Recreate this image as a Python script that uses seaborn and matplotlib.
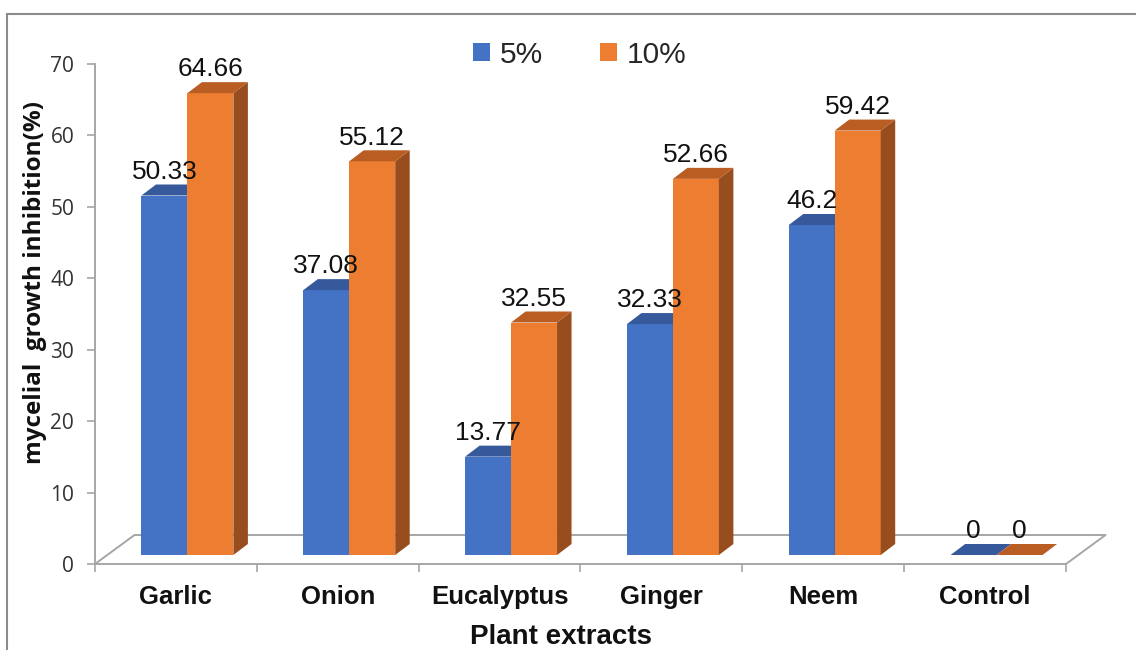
import matplotlib
matplotlib.use("Agg")
import matplotlib.pyplot as plt
import matplotlib.transforms as mtransforms
from matplotlib.patches import Polygon, Patch
from matplotlib.lines import Line2D
import numpy as np
import pandas as pd
import seaborn as sns

# ---- data -------------------------------------------------------------
extracts = ["Garlic", "Onion", "Eucalyptus", "Ginger", "Neem", "Control"]
doses = ["5%", "10%"]
inhibition_5 = [50.33, 37.08, 13.77, 32.33, 46.2, 0]
inhibition_10 = [64.66, 55.12, 32.55, 52.66, 59.42, 0]
y_ticks = [0, 10, 20, 30, 40, 50, 60, 70]

df = pd.DataFrame({
    "extract": extracts * 2,
    "dose": [doses[0]] * len(extracts) + [doses[1]] * len(extracts),
    "value": inhibition_5 + inhibition_10,
})

# ---- style ------------------------------------------------------------
sns.set_style("white")
plt.rcParams["font.family"] = ["Liberation Sans", "DejaVu Sans"]

FRONT = {"5%": "#4472C4", "10%": "#ED7D31"}
TOP = {"5%": "#35599A", "10%": "#B95D22"}
SIDE = {"5%": "#2B4A80", "10%": "#984D1E"}
GRID = "#A6A6A6"

W, H, DPI = 1136, 650, 100
fig = plt.figure(figsize=(W / DPI, H / DPI), dpi=DPI)
fig.patch.set_facecolor("white")

# axes box: floor front edge 95..1066 px, y range 0..70 over 564..64 px
ax = fig.add_axes([95 / W, (H - 564) / H, (1066 - 95) / W, 500 / H])

sns.barplot(data=df, x="extract", y="value", hue="dose", order=extracts,
            hue_order=doses, palette=[FRONT[d] for d in doses],
            saturation=1, width=0.568, gap=0, linewidth=0, legend=False,
            ax=ax, zorder=2)

ax.set_xlim(-0.5, len(extracts) - 0.5)
ax.set_ylim(0, 70)

ppx = ax.bbox.width / len(extracts)   # pixels per category unit
ppy = ax.bbox.height / 70.0           # pixels per value unit

# bars sit slightly back on the 3-D floor
shift = mtransforms.ScaledTranslation(11.5 / DPI, 9 / DPI, fig.dpi_scale_trans)
bar_tr = ax.transData + shift

depth_x = 14.5 / ppx
depth_y = 11 / ppy

n = len(extracts)
for i, p in enumerate(ax.patches[:2 * n]):
    dose = doses[i // n]
    base_z = 2 if dose == "5%" else 3
    p.set_transform(bar_tr)
    p.set_zorder(base_z)
    x0 = p.get_x()
    x1 = x0 + p.get_width()
    h = p.get_height()
    top = Polygon([(x0, h), (x1, h), (x1 + depth_x, h + depth_y),
                   (x0 + depth_x, h + depth_y)], closed=True,
                  facecolor=TOP[dose], edgecolor="none", transform=bar_tr,
                  zorder=base_z + 0.1, clip_on=False)
    side = Polygon([(x1, 0), (x1, h), (x1 + depth_x, h + depth_y),
                    (x1 + depth_x, depth_y)], closed=True,
                   facecolor=SIDE[dose], edgecolor="none", transform=bar_tr,
                   zorder=base_z + 0.1, clip_on=False)
    ax.add_patch(side)
    ax.add_patch(top)
    ax.annotate(f"{h:g}", xy=((x0 + x1) / 2, h), xycoords=bar_tr,
                xytext=(0, 12), textcoords="offset points",
                ha="center", va="baseline", fontsize=19, color="#111111",
                zorder=10, annotation_clip=False)

# ---- 3-D floor outline --------------------------------------------------
fx = 39.5 / ppx
fy = 29 / ppy
floor_kw = dict(color=GRID, lw=1.4, clip_on=False, zorder=1)
ax.plot([-0.5, -0.5 + fx], [0, fy], **floor_kw)
ax.plot([-0.5 + fx, n - 0.5 + fx], [fy, fy], **floor_kw)
ax.plot([n - 0.5, n - 0.5 + fx], [0, fy], **floor_kw)

# ---- axes -------------------------------------------------------------
for s in ["top", "right"]:
    ax.spines[s].set_visible(False)
for s in ["left", "bottom"]:
    ax.spines[s].set_color(GRID)
    ax.spines[s].set_linewidth(1.4)

ax.set_yticks(y_ticks)
ax.set_yticklabels([str(t) for t in y_ticks], fontfamily="Open Sans",
                   fontsize=15, color="#333333")
ax.tick_params(axis="y", which="major", direction="out", length=6,
               width=1.2, color=GRID, pad=9, left=True)

ax.set_xticks(range(n))
ax.set_xticklabels(extracts, fontweight="bold", fontsize=18.5,
                   color="#111111")
ax.set_xticks(np.arange(-0.5, n), minor=True)
ax.tick_params(axis="x", which="major", length=0, pad=15)
ax.tick_params(axis="x", which="minor", direction="out", length=6,
               width=1.2, color=GRID, bottom=True)

ax.set_xlabel("")
ax.set_ylabel("")
fig.text(35 / W, 1 - 283 / H, "mycelial  growth inhibition(%)",
         rotation=90, ha="center", va="center", fontfamily="Open Sans",
         fontweight="bold", fontsize=17.5, color="#111111")
fig.text(561 / W, 1 - 637 / H, "Plant extracts", ha="center",
         va="center", fontweight="bold", fontsize=20, color="#111111")

# ---- legend -----------------------------------------------------------
handles = [Patch(facecolor=FRONT[d], edgecolor="none", label=d) for d in doses]
fig.legend(handles=handles, loc="center", ncol=2,
           bbox_to_anchor=(580 / W, 1 - 55 / H), frameon=False,
           fontsize=21.5, handlelength=0.55, handleheight=0.55,
           handletextpad=0.35, columnspacing=1.9, borderpad=0)

# ---- chart border (left and top edges) -----------------------------------
fig.add_artist(Line2D([7 / W, 7 / W], [0, 1 - 14 / H], color="#8C8C8C",
                      lw=1.5, transform=fig.transFigure))
fig.add_artist(Line2D([7 / W, 1], [1 - 14 / H, 1 - 14 / H], color="#8C8C8C",
                      lw=1.5, transform=fig.transFigure))

fig.savefig("out.png", dpi=DPI, facecolor="white")
